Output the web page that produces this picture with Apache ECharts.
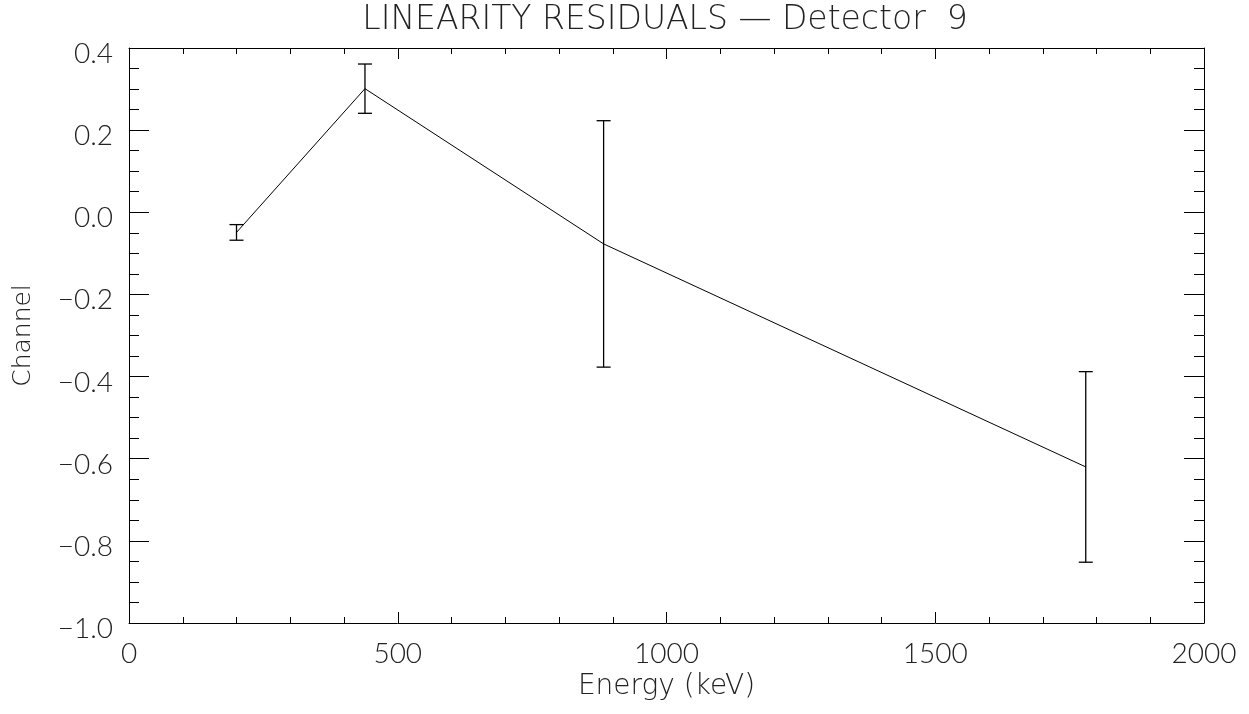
<!DOCTYPE html>
<html>
<head>
<meta charset="utf-8">
<script src="https://cdn.jsdelivr.net/npm/echarts@6/dist/echarts.min.js"></script>
<style>
  html, body { margin: 0; padding: 0; background: #fff; }
  #chart { width: 1249px; height: 714px; }
</style>
</head>
<body>
<div id="chart"></div>
<script>
// Residuals of the linearity fit, per calibration line
const energies = [200, 439, 883, 1780];            // keV
const residuals = [-0.049, 0.301, -0.077, -0.620]; // channel
const errors = [0.019, 0.060, 0.300, 0.232];       // channel, 1-sigma

const xTicks = { min: 0, max: 2000, interval: 500 };
const yTicks = { min: -1.0, max: 0.4, interval: 0.2 };

const TICK_FONT = 'Lato';
const NAME_FONT = 'DejaVu Sans';
const TXT = '#222';

const lineData = energies.map((e, i) => [e, residuals[i]]);
const errData = energies.map((e, i) => [e, residuals[i] - errors[i], residuals[i] + errors[i]]);

function fmtY(v) {
  const s = v.toFixed(1);
  return s.startsWith('-') ? '\u2212' + s.slice(1) : s;
}
function fmtX(v) { return String(Math.round(v)); }

const axisLine = { show: true, onZero: false, lineStyle: { color: '#000', width: 1 } };
const tickStyle = { color: '#000', width: 1 };

const chart = echarts.init(document.getElementById('chart'), null, { renderer: 'canvas' });
chart.setOption({
  backgroundColor: '#fff',
  animation: false,
  title: {
    text: 'LINEARITY RESIDUALS \u2014 Detector  9',
    left: 665, top: 4, textAlign: 'center', padding: 0,
    textStyle: { fontFamily: NAME_FONT, fontWeight: 200, fontSize: 33, color: TXT }
  },
  grid: { left: 129, right: 45, top: 48, bottom: 91, containLabel: false },
  xAxis: [{
    type: 'value', position: 'bottom',
    min: xTicks.min, max: xTicks.max, interval: xTicks.interval,
    axisLine,
    axisTick: { inside: true, length: 11, lineStyle: tickStyle },
    minorTick: { show: true, splitNumber: 5, length: 6, lineStyle: tickStyle },
    splitLine: { show: false },
    axisLabel: { margin: 17, formatter: fmtX, fontFamily: TICK_FONT, fontWeight: 300, fontSize: 28, color: TXT },
    name: 'Energy (keV)', nameLocation: 'middle', nameGap: 50,
    nameTextStyle: { fontFamily: NAME_FONT, fontWeight: 200, fontSize: 28, color: TXT }
  }, {
    type: 'value', position: 'top',
    min: xTicks.min, max: xTicks.max, interval: xTicks.interval,
    axisLine,
    axisTick: { inside: true, length: 11, lineStyle: tickStyle },
    minorTick: { show: true, splitNumber: 5, length: 6, lineStyle: tickStyle },
    splitLine: { show: false },
    axisLabel: { show: false }
  }],
  yAxis: [{
    type: 'value', position: 'left',
    min: yTicks.min, max: yTicks.max, interval: yTicks.interval,
    axisLine,
    axisTick: { inside: true, length: 20, lineStyle: tickStyle },
    minorTick: { show: true, splitNumber: 4, length: 10, lineStyle: tickStyle },
    splitLine: { show: false },
    axisLabel: {
      margin: 16, formatter: fmtY, verticalAlign: 'top', lineHeight: 12,
      fontFamily: TICK_FONT, fontWeight: 300, fontSize: 28, color: TXT
    },
    name: 'Channel', nameLocation: 'middle', nameGap: 93, nameRotate: 90,
    nameTextStyle: { fontFamily: NAME_FONT, fontWeight: 200, fontSize: 25, color: TXT }
  }, {
    type: 'value', position: 'right',
    min: yTicks.min, max: yTicks.max, interval: yTicks.interval,
    axisLine,
    axisTick: { inside: true, length: 20, lineStyle: tickStyle },
    minorTick: { show: true, splitNumber: 4, length: 10, lineStyle: tickStyle },
    splitLine: { show: false },
    axisLabel: { show: false }
  }],
  series: [{
    type: 'line',
    data: lineData,
    showSymbol: false,
    lineStyle: { color: '#000', width: 1 },
    z: 3
  }, {
    type: 'custom',
    data: errData,
    z: 4,
    renderItem: function (params, api) {
      const x = api.value(0);
      const lo = api.coord([x, api.value(1)]);
      const hi = api.coord([x, api.value(2)]);
      const cap = 7;
      const style = { stroke: '#000', lineWidth: 1.3 };
      return {
        type: 'group',
        children: [
          { type: 'line', shape: { x1: lo[0], y1: lo[1], x2: hi[0], y2: hi[1] }, style },
          { type: 'line', shape: { x1: lo[0] - cap, y1: lo[1], x2: lo[0] + cap, y2: lo[1] }, style },
          { type: 'line', shape: { x1: hi[0] - cap, y1: hi[1], x2: hi[0] + cap, y2: hi[1] }, style }
        ]
      };
    }
  }]
});
</script>
</body>
</html>
